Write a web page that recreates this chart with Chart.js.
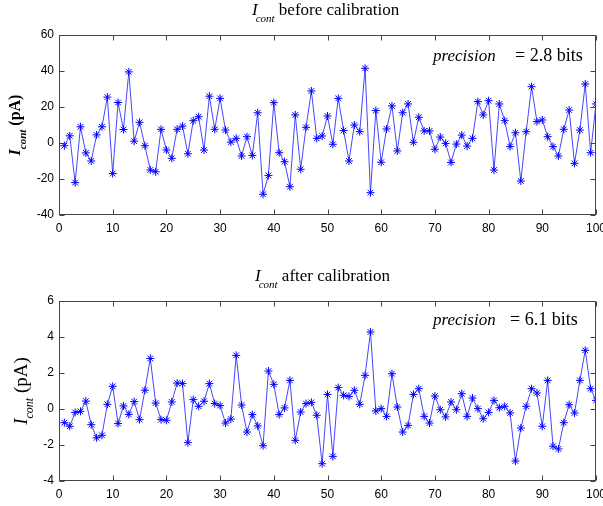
<!DOCTYPE html>
<html>
<head>
<meta charset="utf-8">
<script src="https://cdn.jsdelivr.net/npm/chart.js@4.4.0/dist/chart.umd.min.js"></script>
<style>
  body { margin: 0; background: #fff; }
  canvas { position: absolute; left: 0; }
</style>
</head>
<body>
<canvas id="before" width="603" height="253" style="top:0"></canvas>
<canvas id="after" width="603" height="253" style="top:253px"></canvas>
<script>
// sample index 1..100
const samples = Array.from({ length: 100 }, (_, i) => i + 1);

// I_cont before calibration (pA)
const beforeCal = [
  -1.5, 4, -22, 9, -5.5, -10, 4.5, 9, 25.5, -17,
  22.5, 7.5, 39.5, 1, 11.5, -1.5, -15, -16, 7.6, -3.9,
  -8.5, 7.6, 9.4, -6, 12.4, 14.6, -3.9, 26, 7.6, 24.8,
  7.2, 0.5, 2.6, -7.2, 3.5, -6.9, 16.8, -28.5, -18, 22.4,
  -5.4, -10.4, -24.3, 15.6, -14.6, 8.7, 28.9, 2.6, 3.9, 15,
  -0.7, 24.8, 6.9, -10, 10, 6.3, 41.5, -27.6, 18, -10.7,
  7.8, 20.6, -4.4, 16.8, 21.7, 0.4, 14.3, 6.7, 6.7, -3.5,
  3.3, -0.2, -10.8, -0.6, 4.4, -1.7, 2.6, 23, 15.6, 23.5,
  -15, 21.7, 12.4, -2, 5.7, -21.1, 6.3, 31.3, 11.9, 12.8,
  3.5, -2, -7.2, 7.6, 18.3, -11.3, 7.2, 32.8, -5.4, 21.7
];

// I_cont after calibration (pA)
const afterCal = [
  -0.76, -0.96, -0.19, -0.13, 0.44, -0.87, -1.6, -1.46, 0.26, 1.26,
  -0.81, 0.17, -0.3, 0.41, -0.59, 1.04, 2.81, 0.33, -0.59, -0.63,
  0.39, 1.44, 1.41, -1.87, 0.52, 0.15, 0.43, 1.41, 0.3, 0.19,
  -0.78, -0.56, 2.98, 0.22, -1.28, -0.31, -0.94, -2.04, 2.11, 1.37,
  -0.31, 0.06, 1.59, -1.74, -0.17, 0.3, 0.37, -0.35, -3.04, 0.81,
  -2.63, 1.19, 0.76, 0.7, 1.04, 0.26, 1.87, 4.28, -0.11, 0.02,
  -0.41, 1.96, 0.11, -1.28, -0.91, 0.81, 1.13, -0.41, -0.78, 0.72,
  -0.04, -0.44, 0.39, -0.04, 0.85, -0.41, 0.61, 0.02, -0.54, -0.19,
  0.48, 0.07, 0.15, -0.22, -2.89, -1.06, 0.15, 1.13, 0.89, -0.96,
  1.59, -2.07, -2.22, -0.76, 0.24, -0.22, 1.59, 3.26, 1.13, 0.48
];

const xRange = [0, 100, 10];       // min, max, step
const beforeRange = [-40, 60, 20];
const afterRange = [-4, 6, 2];

const serif = '"Liberation Serif", "Times New Roman", serif';
const sans = '"Liberation Sans", Arial, sans-serif';

// draw a row of text pieces (for the subscripts)
function drawRuns(ctx, runs, x, y, centered) {
  let total = 0;
  runs.forEach(r => { ctx.font = r.f; r.w = ctx.measureText(r.t).width; total += r.w + (r.dx || 0); });
  let cx = centered ? x - total / 2 : x;
  runs.forEach(r => {
    if (r.x !== undefined) cx = r.x;
    cx += r.dx || 0;
    ctx.font = r.f;
    ctx.fillText(r.t, cx, y + (r.dy || 0));
    cx += r.w;
  });
}

const framePlugin = {
  id: 'frame',
  afterDraw(chart, args, o) {
    const { ctx, chartArea: a, scales } = chart;
    const L = Math.round(a.left) + 0.5, R = Math.round(a.right) - 0.5;
    const T = Math.round(a.top) + 0.5, B = Math.round(a.bottom) - 0.5;
    ctx.save();
    ctx.strokeStyle = '#444';
    ctx.lineWidth = 1;
    ctx.strokeRect(L, T, R - L, B - T);
    ctx.beginPath();
    scales.x.ticks.forEach(t => {
      const px = Math.round(scales.x.getPixelForValue(t.value)) + 0.5;
      ctx.moveTo(px, B); ctx.lineTo(px, B - 5);
      ctx.moveTo(px, T); ctx.lineTo(px, T + 5);
    });
    scales.y.ticks.forEach(t => {
      const py = Math.round(scales.y.getPixelForValue(t.value)) + 0.5;
      ctx.moveTo(L, py); ctx.lineTo(L + 5, py);
      ctx.moveTo(R, py); ctx.lineTo(R - 5, py);
    });
    ctx.stroke();

    ctx.fillStyle = '#000';
    ctx.textBaseline = 'alphabetic';
    drawRuns(ctx, o.title, o.titleX, o.titleY, false);
    drawRuns(ctx, o.prec, 0, o.precY, false);

    ctx.translate(o.ylabelX, (a.top + a.bottom) / 2);
    ctx.rotate(-Math.PI / 2);
    drawRuns(ctx, o.ylabel, 0, 0, true);
    ctx.restore();
  }
};

function makeChart(id, values, yr, pad, xHeight, frame) {
  return new Chart(document.getElementById(id), {
    type: 'line',
    data: {
      datasets: [{
        data: samples.map((s, i) => ({ x: s, y: values[i] })),
        borderColor: 'rgb(70, 70, 255)',
        borderWidth: 1,
        tension: 0,
        pointStyle: 'star',
        pointRadius: 4,
        pointBorderColor: 'rgb(0, 0, 255)',
        pointBackgroundColor: 'rgb(0, 0, 255)',
        pointBorderWidth: 1
      }]
    },
    options: {
      responsive: false,
      animation: false,
      devicePixelRatio: 1,
      layout: { padding: pad },
      plugins: { legend: { display: false }, tooltip: { enabled: false }, frame: frame },
      scales: {
        x: {
          type: 'linear',
          min: xRange[0], max: xRange[1],
          grid: { display: false, drawTicks: false },
          border: { display: false },
          ticks: { stepSize: xRange[2], color: '#000', padding: 6, maxRotation: 0, autoSkip: false, font: { family: sans, size: 12 } },
          afterFit: s => { s.height = xHeight; s.paddingLeft = 0; s.paddingRight = 0; }
        },
        y: {
          min: yr[0], max: yr[1],
          grid: { display: false, drawTicks: false },
          border: { display: false },
          ticks: { stepSize: yr[2], color: '#000', padding: 5, font: { family: sans, size: 12 } },
          afterFit: s => { s.width = 59; s.paddingTop = 0; s.paddingBottom = 0; }
        }
      }
    },
    plugins: [framePlugin]
  });
}

makeChart('before', beforeCal, beforeRange, { top: 35, right: 7, left: 0, bottom: 0 }, 38, {
  title: [
    { t: 'I', f: `italic 17px ${serif}` },
    { t: 'cont', f: `italic 11px ${serif}`, dx: -2, dy: 7 },
    { t: ' before calibration', f: `17px ${serif}` }
  ],
  titleX: 252, titleY: 15,
  prec: [
    { t: 'precision', f: `italic 17px ${serif}`, x: 433 },
    { t: '= 2.8 bits', f: `18px ${serif}`, x: 515 }
  ],
  precY: 61,
  ylabel: [
    { t: 'I', f: `italic bold 16px ${serif}` },
    { t: 'cont', f: `italic bold 11px ${serif}`, dy: 6 },
    { t: ' (pA)', f: `bold 16px ${serif}` }
  ],
  ylabelX: 20
});

makeChart('after', afterCal, afterRange, { top: 48, right: 7, left: 0, bottom: 0 }, 25, {
  title: [
    { t: 'I', f: `italic 17px ${serif}` },
    { t: 'cont', f: `italic 11px ${serif}`, dx: -2, dy: 7 },
    { t: ' after calibration', f: `17px ${serif}` }
  ],
  titleX: 255, titleY: 28,
  prec: [
    { t: 'precision', f: `italic 17px ${serif}`, x: 433 },
    { t: '= 6.1 bits', f: `18px ${serif}`, x: 510 }
  ],
  precY: 72,
  ylabel: [
    { t: 'I', f: `italic 19px ${serif}` },
    { t: 'cont', f: `italic 12px ${serif}`, dy: 6 },
    { t: ' (pA)', f: `19px ${serif}` }
  ],
  ylabelX: 27
});
</script>
</body>
</html>
